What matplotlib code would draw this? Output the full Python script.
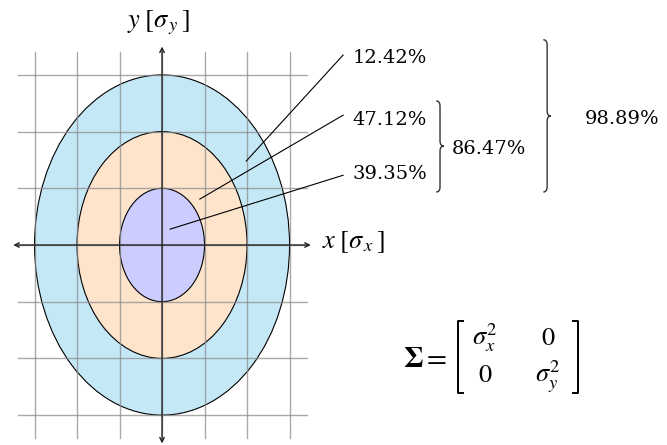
import matplotlib.pyplot as plt
from matplotlib.patches import Ellipse, PathPatch
from matplotlib.path import Path

plt.rcParams['mathtext.fontset'] = 'stix'

# confidence ellipses, drawn outermost first (radius in sigma)
sigma_levels = [3, 2, 1]
ring_colors = ['#c5e8f7', '#ffe4cc', '#ccccff']
grid_ticks = [-3, -2, -1, 0, 1, 2, 3]

# probability mass of each ring, outer to inner
ring_labels = ['12.42%', '47.12%', '39.35%']
leader_start_x = [1.98, 0.89, 0.19]
leader_start_y = [1.48, 0.81, 0.28]
leader_end_y = [3.35, 2.29, 1.23]
label_baseline_y = [3.21, 2.12, 1.16]
leader_end_x = 4.26
label_x = 4.49

# cumulative mass inside the 2 and 3 sigma ellipses
cum_labels = ['86.47%', '98.89%']
brace_x = [6.54, 9.06]
brace_bottom = [0.935, 0.935]
brace_top = [2.54, 3.62]
brace_mid = [1.746, 2.275]
cum_label_x = [6.82, 9.95]
cum_label_y = [1.605, 2.134]


def draw_brace(ax, x, y0, y1, ym, dx=0.09, dy=0.09):
    """Right-facing curly brace spanning y0..y1 with its tip at ym."""
    verts = [(x - dx, y1), (x, y1), (x, y1 - dy),
             (x, ym + dy), (x, ym), (x + dx, ym),
             (x, ym), (x, ym - dy),
             (x, y0 + dy), (x, y0), (x - dx, y0)]
    codes = [Path.MOVETO, Path.CURVE3, Path.CURVE3,
             Path.LINETO, Path.CURVE3, Path.CURVE3,
             Path.CURVE3, Path.CURVE3,
             Path.LINETO, Path.CURVE3, Path.CURVE3]
    ax.add_patch(PathPatch(Path(verts, codes), fill=False, lw=1, color='#333333'))


fig = plt.figure(figsize=(6.67, 4.45), dpi=100)
ax = fig.add_axes([0, 0, 1, 1])
ax.set_xlim(-3.812, 11.88)
ax.set_ylim(-3.527, 4.321)
ax.axis('off')

for k, c in zip(sigma_levels, ring_colors):
    ax.add_patch(Ellipse((0, 0), 2 * k, 2 * k, facecolor=c, edgecolor='black',
                         lw=0.8, zorder=1))

# grid
for t in grid_ticks:
    ax.plot([t, t], [-3.4, 3.4], color='#8c8c8c', lw=1, alpha=0.75, zorder=2)
    ax.plot([-3.4, 3.4], [t, t], color='#8c8c8c', lw=1, alpha=0.75, zorder=2)

# axes
arrow = dict(arrowstyle='<->', lw=1.0, color='#222222', shrinkA=0, shrinkB=0,
             mutation_scale=8)
ax.annotate('', xy=(3.5, 0), xytext=(-3.5, 0), arrowprops=arrow, zorder=3)
ax.annotate('', xy=(0, 3.5), xytext=(0, -3.5), arrowprops=arrow, zorder=3)
ax.text(3.76, -0.05, r'$x\;[\sigma_{\,x}\,]$', fontsize=19, va='baseline', ha='left')
ax.text(-0.08, 3.845, r'$y\;[\sigma_{\,y}\,]$', fontsize=19, va='baseline', ha='center')

# ring annotations
for lab, sx, sy, ey, by in zip(ring_labels, leader_start_x, leader_start_y,
                               leader_end_y, label_baseline_y):
    ax.plot([sx, leader_end_x], [sy, ey], color='black', lw=0.8, zorder=4)
    ax.text(label_x, by, lab, fontsize=14, family='DejaVu Serif', va='baseline')

for lab, bx, b0, b1, bm, tx, ty in zip(cum_labels, brace_x, brace_bottom, brace_top,
                                       brace_mid, cum_label_x, cum_label_y):
    draw_brace(ax, bx, b0, b1, bm)
    ax.text(tx, ty, lab, fontsize=14, family='DejaVu Serif', va='baseline')

# covariance matrix
ax.text(6.71, -2.15, r'$\mathbf{\Sigma}=$', fontsize=21, ha='right', va='baseline')
left_x, right_x, top_y, bot_y, serif = 6.965, 9.79, -1.34, -2.61, 0.12
ax.plot([left_x + serif, left_x, left_x, left_x + serif],
        [top_y, top_y, bot_y, bot_y], color='black', lw=1.4)
ax.plot([right_x - serif, right_x, right_x, right_x - serif],
        [top_y, top_y, bot_y, bot_y], color='black', lw=1.4)
entries = [[r'$\sigma_x^2$', r'$0$'], [r'$0$', r'$\sigma_y^2$']]
col_x = [7.6, 9.08]
row_y = [-1.764, -2.416]
for i, row in enumerate(entries):
    for j, e in enumerate(row):
        ax.text(col_x[j], row_y[i], e, fontsize=19, ha='center', va='baseline')

fig.savefig('out.png', dpi=100)
